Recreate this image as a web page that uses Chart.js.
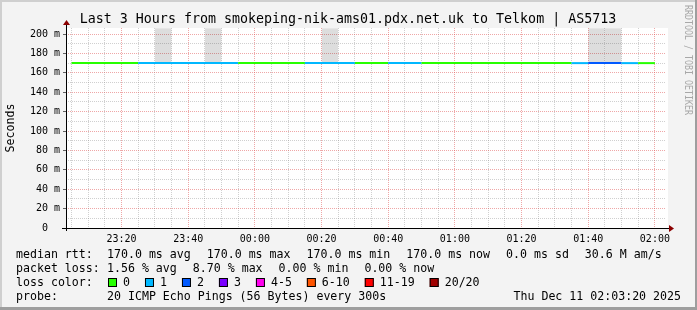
<!DOCTYPE html>
<html>
<head>
<meta charset="utf-8">
<script src="https://cdn.jsdelivr.net/npm/chart.js@4/dist/chart.umd.min.js"></script>
<style>
  html, body { margin: 0; padding: 0; background: #f3f3f3; }
  canvas { display: block; }
</style>
</head>
<body>
<canvas id="smokeChart" width="697" height="310"></canvas>
<script>
// one value per 5 minute step, the step starts at the listed time
var stepStarts = ['23:05','23:10','23:15','23:20','23:25','23:30','23:35','23:40','23:45','23:50',
                  '23:55','00:00','00:05','00:10','00:15','00:20','00:25','00:30','00:35','00:40',
                  '00:45','00:50','00:55','01:00','01:05','01:10','01:15','01:20','01:25','01:30',
                  '01:35','01:40','01:45','01:50','01:55'];
var lastStepEnd = '02:00';
var medianRtt = [170,170,170,170,170,170,170,170,170,170,
                 170,170,170,170,170,170,170,170,170,170,
                 170,170,170,170,170,170,170,170,170,170,
                 170,170,170,170,170];
// lost pings out of 20
var lostPings = [0,0,0,0,1,1,1,1,1,1,
                 0,0,0,0,1,1,1,0,0,1,
                 1,0,0,0,0,0,0,0,0,0,
                 1,2,2,1,0];
// top of the grey smoke (ms), null where there is none
var smokeTop = [null,null,null,null,null,206,null,null,206,null,
                null,null,null,null,null,206,null,null,null,null,
                null,null,null,null,null,null,null,null,null,null,
                null,206,206,null,null];

var xTickLabels = ['23:20','23:40','00:00','00:20','00:40','01:00','01:20','01:40','02:00'];
var yTickValues = [0,20,40,60,80,100,120,140,160,180,200];
var yTickLabels = ['0','20 m','40 m','60 m','80 m','100 m','120 m','140 m','160 m','180 m','200 m'];

var lossLabels = ['0','1','2','3','4-5','6-10','11-19','20/20'];
var lossColors = ['#26ff00','#00b8ff','#0059ff','#7a00ff','#ff00ee','#ff5500','#ff0000','#a00000'];

var viewStart = '23:03:20';
var viewEnd = '02:03:20';

// minutes after 23:00
function toMin(s) {
  var p = s.split(':');
  var m = (+p[0]) * 60 + (+p[1]) + (p[2] ? (+p[2]) / 60 : 0);
  if (+p[0] < 12) m += 24 * 60;
  return m - 23 * 60;
}
function lossBucket(n) {
  if (n <= 3) return n;
  if (n <= 5) return 4;
  if (n <= 10) return 5;
  if (n <= 19) return 6;
  return 7;
}

var rttPoints = stepStarts.map(function (t, i) { return { x: toMin(t), y: medianRtt[i] }; });
rttPoints.push({ x: toMin(lastStepEnd), y: medianRtt[medianRtt.length - 1] });

var smokePoints = [];
smokeTop.forEach(function (v, i) {
  if (v === null) return;
  var t0 = toMin(stepStarts[i]);
  var t1 = i + 1 < stepStarts.length ? toMin(stepStarts[i + 1]) : toMin(lastStepEnd);
  smokePoints.push({ x: t0, y: v }, { x: t1, y: v }, { x: t1, y: null });
});

var xLabelAt = {};
xTickLabels.forEach(function (l) { xLabelAt[toMin(l)] = l; });
var yLabelAt = {};
yTickValues.forEach(function (v, i) {
  // unitless labels keep the unit column free, like rrdtool does
  yLabelAt[v] = yTickLabels[i].indexOf(' ') < 0 ? yTickLabels[i] + '  ' : yTickLabels[i];
});

var xGrid = [];
for (var t = 5; t <= 180; t += 5) xGrid.push(t);
var yGrid = [];
for (var v = 0; v <= 200; v += 10) yGrid.push(v);

var MONO = '"DejaVu Sans Mono", monospace';
var gridGray = 'rgba(143,143,143,0.42)';
var gridRed = 'rgba(224,80,80,0.5)';

var rrdFrame = {
  id: 'rrdFrame',
  beforeDraw: function (chart) {
    var c = chart.ctx, a = chart.chartArea;
    c.save();
    c.fillStyle = '#f3f3f3';
    c.fillRect(0, 0, 697, 310);
    c.fillStyle = '#cfcfcf';
    c.fillRect(0, 0, 697, 2);
    c.fillRect(0, 0, 2, 310);
    c.fillStyle = '#9e9e9e';
    c.fillRect(695, 0, 2, 310);
    c.fillRect(0, 307, 697, 3);
    c.fillStyle = '#ffffff';
    c.fillRect(a.left, a.top, a.right - a.left + 2, a.bottom - a.top);
    c.restore();
  },
  afterDraw: function (chart) {
    var c = chart.ctx, a = chart.chartArea;
    c.save();
    // axes
    c.strokeStyle = '#000';
    c.lineWidth = 1;
    c.beginPath();
    c.moveTo(a.left - 4, a.bottom + 0.5);
    c.lineTo(a.right + 4, a.bottom + 0.5);
    c.moveTo(a.left + 0.5, a.bottom + 3);
    c.lineTo(a.left + 0.5, a.top - 4);
    c.stroke();
    c.fillStyle = '#8b0000';
    c.beginPath();
    c.moveTo(a.right + 8, a.bottom + 0.5);
    c.lineTo(a.right + 3, a.bottom - 3);
    c.lineTo(a.right + 3, a.bottom + 4);
    c.closePath();
    c.fill();
    c.beginPath();
    c.moveTo(a.left + 0.5, a.top - 8);
    c.lineTo(a.left - 3, a.top - 3);
    c.lineTo(a.left + 4, a.top - 3);
    c.closePath();
    c.fill();

    c.fillStyle = '#000';
    c.textBaseline = 'middle';
    // title
    c.font = '13.3px ' + MONO;
    c.textAlign = 'center';
    c.fillText('Last 3 Hours from smokeping-nik-ams01.pdx.net.uk to Telkom | AS5713', 348, 19.5);

    // y title
    c.font = '11.6px ' + MONO;
    c.save();
    c.translate(11, 128);
    c.rotate(-Math.PI / 2);
    c.fillText('Seconds', 0, 0);
    c.restore();

    // watermark
    c.save();
    c.fillStyle = '#a8a8a8';
    c.font = '10px ' + MONO;
    c.translate(688, 5);
    c.rotate(Math.PI / 2);
    c.scale(0.83, 1);
    c.textAlign = 'left';
    c.fillText('RRDTOOL / TOBI OETIKER', 0, 0);
    c.restore();

    // legend
    c.font = '11.6px ' + MONO;
    c.textAlign = 'left';
    function row(y, head, parts) {
      c.fillText(head, 16, y);
      var x = 107;
      parts.forEach(function (p) {
        c.fillText(p, x, y);
        x += c.measureText(p).width + 16;
      });
    }
    row(254.5, 'median rtt:', ['170.0 ms avg', '170.0 ms max', '170.0 ms min', '170.0 ms now', '0.0 ms sd', '30.6 M am/s']);
    row(268.5, 'packet loss:', ['1.56 % avg', '8.70 % max', '0.00 % min', '0.00 % now']);
    c.fillText('loss color:', 16, 282.5);
    var bx = 108;
    lossLabels.forEach(function (l, i) {
      c.fillStyle = lossColors[i];
      c.fillRect(bx, 278, 9, 9);
      c.strokeStyle = '#000';
      c.strokeRect(bx + 0.5, 278.5, 8, 8);
      c.fillStyle = '#000';
      c.fillText(l, bx + 15, 282.5);
      bx += 15 + c.measureText(l).width + 15;
    });
    c.fillText('probe:', 16, 296.5);
    c.fillText('20 ICMP Echo Pings (56 Bytes) every 300s', 107, 296.5);
    c.textAlign = 'right';
    c.fillText('Thu Dec 11 02:03:20 2025', 681, 296.5);
    c.restore();
  }
};

var tickFont = { family: MONO, size: 10 };

new Chart(document.getElementById('smokeChart'), {
  type: 'line',
  data: {
    datasets: [{
      label: 'median rtt',
      data: rttPoints,
      stepped: 'after',
      borderWidth: 2,
      borderCapStyle: 'butt',
      pointRadius: 0,
      borderColor: lossColors[0],
      segment: {
        borderColor: function (ctx) { return lossColors[lossBucket(lostPings[ctx.p0DataIndex])]; }
      },
      fill: false,
      order: 1
    }, {
      label: 'smoke',
      data: smokePoints,
      borderWidth: 0,
      pointRadius: 0,
      backgroundColor: 'rgba(0,0,0,0.135)',
      fill: 0,
      spanGaps: false,
      order: 2
    }]
  },
  options: {
    responsive: false,
    animation: false,
    events: [],
    layout: { padding: { left: 0, top: 28, right: 31, bottom: 0 } },
    plugins: { legend: { display: false }, tooltip: { enabled: false } },
    scales: {
      x: {
        type: 'linear',
        min: toMin(viewStart),
        max: toMin(viewEnd),
        afterBuildTicks: function (s) { s.ticks = xGrid.map(function (v) { return { value: v }; }); },
        afterFit: function (s) { s.height = 82; },
        ticks: {
          autoSkip: false, maxRotation: 0, padding: 2, color: '#000', font: tickFont,
          callback: function (v) { return xLabelAt[v] || ''; }
        },
        grid: {
          color: function (ctx) { return ctx.tick && xLabelAt[ctx.tick.value] ? gridRed : gridGray; },
          tickLength: 3, tickColor: 'transparent'
        },
        border: { display: false, dash: [1, 1] }
      },
      y: {
        min: 0,
        max: 206.2,
        afterBuildTicks: function (s) { s.ticks = yGrid.map(function (v) { return { value: v }; }); },
        afterFit: function (s) { s.width = 66; },
        ticks: {
          autoSkip: false, padding: 3, color: '#000', font: tickFont,
          callback: function (v) { return yLabelAt[v] || ''; }
        },
        grid: {
          color: function (ctx) { return ctx.tick && yLabelAt[ctx.tick.value] !== undefined ? gridRed : gridGray; },
          tickLength: 3,
          tickColor: function (ctx) { return ctx.tick && yLabelAt[ctx.tick.value] !== undefined ? 'rgba(0,0,0,0.6)' : 'transparent'; }
        },
        border: { display: false, dash: [1, 1] }
      }
    }
  },
  plugins: [rrdFrame]
});
</script>
</body>
</html>
